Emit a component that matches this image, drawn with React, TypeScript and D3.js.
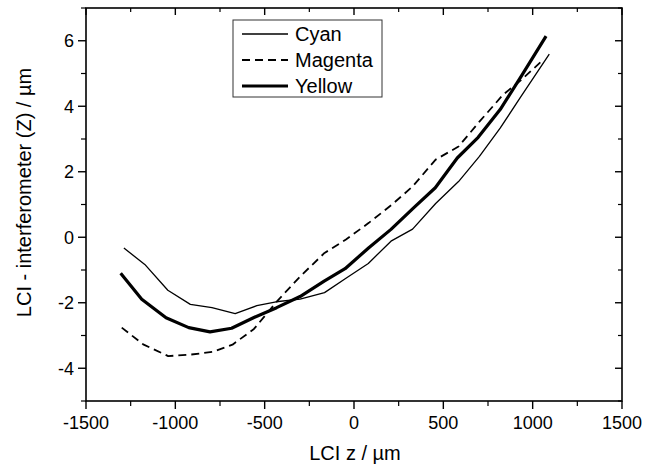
import React from "react";
import * as d3 from "d3";

const cyanX = [-1288, -1171, -1042, -916, -795, -665, -544, -436, -302, -165, -45, 80, 207, 328, 457, 585, 702, 818, 935, 1093];
const cyanY = [-0.33, -0.83, -1.62, -2.05, -2.15, -2.33, -2.09, -1.97, -1.89, -1.69, -1.25, -0.8, -0.12, 0.25, 1.03, 1.7, 2.47, 3.33, 4.3, 5.59];

const magentaX = [-1300, -1180, -1040, -910, -790, -680, -560, -430, -300, -165, -45, 83, 211, 328, 457, 585, 702, 834, 935, 1059];
const magentaY = [-2.76, -3.27, -3.63, -3.58, -3.5, -3.28, -2.8, -1.95, -1.19, -0.48, -0.07, 0.44, 0.99, 1.55, 2.37, 2.77, 3.53, 4.35, 4.8, 5.42];

const yellowX = [-1306, -1188, -1052, -925, -806, -685, -560, -433, -302, -167, -50, 83, 207, 338, 455, 578, 695, 818, 940, 1075];
const yellowY = [-1.1, -1.89, -2.46, -2.76, -2.89, -2.78, -2.45, -2.15, -1.81, -1.34, -0.96, -0.32, 0.24, 0.92, 1.51, 2.42, 3.05, 3.9, 4.95, 6.14];

const xTicks = [-1500, -1000, -500, 0, 500, 1000, 1500];
const xMinor = [-1250, -750, -250, 250, 750, 1250];
const yTicks = [-4, -2, 0, 2, 4, 6];
const yMinor = [-5, -3, -1, 1, 3, 5, 7];

const seriesNames = ["Cyan", "Magenta", "Yellow"];

export default function App() {
  const left = 86, right = 622, top = 8, bottom = 401;
  const x = d3.scaleLinear().domain([-1500, 1500]).range([left, right]);
  const y = d3.scaleLinear().domain([-5, 7]).range([bottom, top]);
  const line = d3.line<[number, number]>().x(d => x(d[0])).y(d => y(d[1]));
  const zip = (a: number[], b: number[]) => a.map((v, i) => [v, b[i]] as [number, number]);
  const font = "'Liberation Sans', Arial, sans-serif";
  const styles = [
    { w: 1.3, dash: undefined as string | undefined },
    { w: 1.8, dash: "8,5" },
    { w: 3.2, dash: undefined as string | undefined },
  ];
  const data = [zip(cyanX, cyanY), zip(magentaX, magentaY), zip(yellowX, yellowY)];

  return (
    <svg width={654} height={466} style={{ position: "absolute", left: 0, top: 0, background: "#fff" }} fontFamily={font}>
      <rect x={0} y={0} width={654} height={466} fill="#fff" />
      {data.map((d, i) => (
        <path key={i} d={line(d) || ""} fill="none" stroke="#000" strokeWidth={styles[i].w}
          strokeDasharray={styles[i].dash} strokeLinejoin="round" />
      ))}
      <rect x={left} y={top} width={right - left} height={bottom - top} fill="none" stroke="#000" strokeWidth={1.6} />
      {xTicks.map(t => (
        <g key={"xt" + t}>
          <line x1={x(t)} x2={x(t)} y1={bottom} y2={bottom + 8} stroke="#000" strokeWidth={1.4} />
          <line x1={x(t)} x2={x(t)} y1={top} y2={top + 7} stroke="#000" strokeWidth={1.4} />
          <text x={x(t)} y={429} textAnchor="middle" fontSize={18}>{t}</text>
        </g>
      ))}
      {xMinor.map(t => (
        <g key={"xm" + t}>
          <line x1={x(t)} x2={x(t)} y1={bottom} y2={bottom + 5} stroke="#000" strokeWidth={1.2} />
          <line x1={x(t)} x2={x(t)} y1={top} y2={top + 4} stroke="#000" strokeWidth={1.2} />
        </g>
      ))}
      {yTicks.map(t => (
        <g key={"yt" + t}>
          <line x1={left - 8} x2={left} y1={y(t)} y2={y(t)} stroke="#000" strokeWidth={1.4} />
          <line x1={right - 7} x2={right} y1={y(t)} y2={y(t)} stroke="#000" strokeWidth={1.4} />
          <text x={left - 12} y={y(t) + 6.5} textAnchor="end" fontSize={18}>{t}</text>
        </g>
      ))}
      {yMinor.map(t => (
        <g key={"ym" + t}>
          <line x1={left - 5} x2={left} y1={y(t)} y2={y(t)} stroke="#000" strokeWidth={1.2} />
          <line x1={right - 4} x2={right} y1={y(t)} y2={y(t)} stroke="#000" strokeWidth={1.2} />
        </g>
      ))}
      <text x={355} y={460} textAnchor="middle" fontSize={20}>LCI z / µm</text>
      <text transform={`translate(31,${(top + bottom) / 2 - 12}) rotate(-90)`} textAnchor="middle" fontSize={20}>
        LCI - interferometer (Z) / µm
      </text>
      <rect x={233} y={20} width={149} height={77} fill="#fff" stroke="#333" strokeWidth={1} />
      {seriesNames.map((n, i) => (
        <g key={n}>
          <line x1={242} x2={288} y1={34 + i * 26} y2={34 + i * 26} stroke="#000" strokeWidth={styles[i].w} strokeDasharray={styles[i].dash} />
          <text x={295} y={34 + i * 26 + 7} fontSize={20}>{n}</text>
        </g>
      ))}
    </svg>
  );
}
